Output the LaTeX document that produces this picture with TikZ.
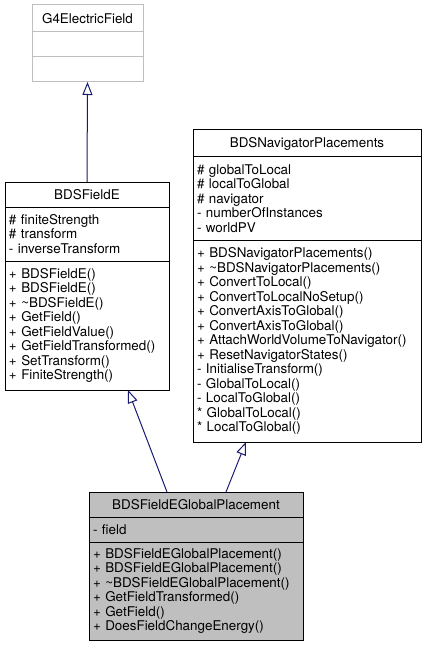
\documentclass[tikz,border=0pt]{standalone}
\usepackage{fontspec}
\setmainfont{TeX Gyre Heros}
\usetikzlibrary{positioning, arrows.meta}
\definecolor{edgeblue}{HTML}{191970}
\definecolor{extgray}{HTML}{BFBFBF}

\begin{document}
\begin{tikzpicture}[
  x=1pt, y=-1pt,
  sect/.style={rectangle, draw, line width=1pt, outer sep=0pt, inner xsep=4pt, inner ysep=0pt,
    font=\fontsize{13.4}{14.5}\selectfont, align=left},
  head/.style={sect, align=center},
  derive/.style={draw=edgeblue, line width=1pt, -{Triangle[open, length=13pt, width=10pt]}}
  ]
  \useasboundingbox (0,0) rectangle (426,647);

  \node[
  head,
  draw=extgray,
  text width=103pt,
  minimum height=27pt,
  anchor=north west] (g) at (32,5) {G4ElectricField};
  \node[sect, draw=extgray, text width=103pt, minimum height=25pt, below=0pt of g] (g1) {};
  \node[sect, draw=extgray, text width=103pt, minimum height=25pt, below=0pt of g1] (g2) {};

  \node[
  head,
  text width=156pt,
  minimum height=25pt,
  anchor=north west] (f) at (5,182) {BDSFieldE};
  \node[sect, text width=156pt, minimum height=54pt, below=0pt of f] (f1)
  {\# finiteStrength\\\# transform\\- inverseTransform};
  \node[sect, text width=156pt, minimum height=129pt, below=0pt of f1] (f2)
  {+ BDSFieldE()\\+ BDSFieldE()\\+ \textasciitilde BDSFieldE()\\+ GetField()\\
    + GetFieldValue()\\+ GetFieldTransformed()\\+ SetTransform()\\+ FiniteStrength()};

  \node[
  head,
  text width=220pt,
  minimum height=27pt,
  anchor=north west] (n) at (193,130) {BDSNavigatorPlacements};
  \node[sect, text width=220pt, minimum height=83pt, below=0pt of n] (n1)
  {\# globalToLocal\\\# localToGlobal\\\# navigator\\- numberOfInstances\\- worldPV};
  \node[sect, text width=220pt, minimum height=202pt, below=0pt of n1] (n2)
  {+ BDSNavigatorPlacements()\\+ \textasciitilde BDSNavigatorPlacements()\\+ ConvertToLocal()\\
    + ConvertToLocalNoSetup()\\+ ConvertAxisToGlobal()\\+ ConvertAxisToGlobal()\\
    + AttachWorldVolumeToNavigator()\\+ ResetNavigatorStates()\\- InitialiseTransform()\\
    - GlobalToLocal()\\- LocalToGlobal()\\{}* GlobalToLocal()\\{}* LocalToGlobal()};

  \node[
  head,
  fill=extgray,
  text width=206pt,
  minimum height=25pt,
  anchor=north west] (p) at (89,492) {BDSFieldEGlobalPlacement};
  \node[sect, fill=extgray, text width=206pt, minimum height=25pt, below=0pt of p] (p1)
  {- field};
  \node[sect, fill=extgray, text width=206pt, minimum height=98pt, below=0pt of p1] (p2)
  {+ BDSFieldEGlobalPlacement()\\+ BDSFieldEGlobalPlacement()\\+ \textasciitilde BDSFieldEGlobalPlacement()\\
    + GetFieldTransformed()\\+ GetField()\\+ DoesFieldChangeEnergy()};

  \draw[derive] (f.north) -- (g2.south);
  \draw[derive] ([xshift=78pt]p.north west) -- ([xshift=123pt]f2.south west);
  \draw[derive] ([xshift=137pt]p.north west) -- ([xshift=53pt]n2.south west);
\end{tikzpicture}
\end{document}
